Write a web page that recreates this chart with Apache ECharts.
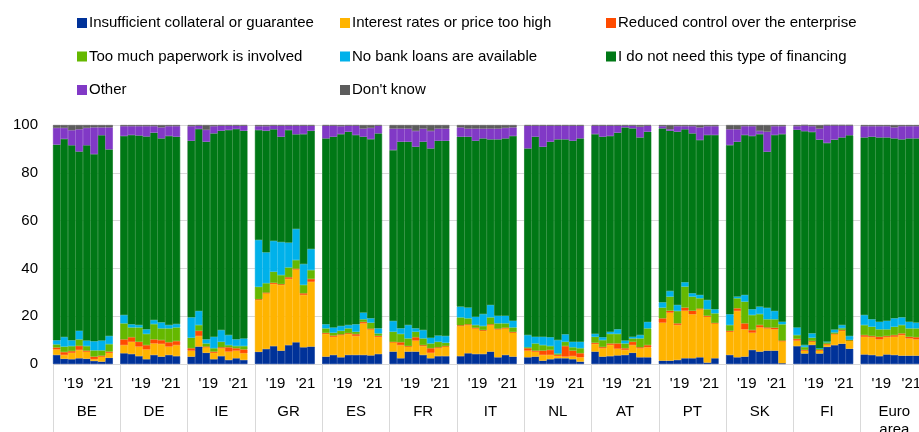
<!DOCTYPE html>
<html>
<head>
<meta charset="utf-8">
<script src="https://cdn.jsdelivr.net/npm/echarts@6/dist/echarts.min.js"></script>
<style>
html,body{margin:0;padding:0;background:#fff;overflow:hidden;}
#chart{width:919px;height:432px;position:absolute;left:0;top:0;}
</style>
</head>
<body>
<div id="chart"></div>
<script>
const countries = ['BE','DE','IE','GR','ES','FR','IT','NL','AT','PT','SK','FI','Euro\narea'];
const periodTicks = ['', '', "'19", '', '', '', "'21", ''];

const collateral = [
[3.8,2.2,2.0,2.4,2.2,1.3,1.0,2.6],
[4.5,4.2,3.3,2.0,3.8,3.1,3.8,3.3],
[3.1,7.3,4.7,2.0,3.3,1.7,2.4,1.7],
[5.1,6.3,7.5,5.6,7.9,9.1,7.0,7.3],
[3.1,3.8,2.8,3.8,3.8,3.8,3.6,4.2],
[5.2,2.4,5.2,5.2,3.8,2.4,3.3,3.3],
[3.3,4.5,4.2,4.2,5.2,2.8,3.8,3.1],
[2.8,3.1,1.4,2.0,2.4,2.4,2.0,1.0],
[5.2,3.1,3.3,3.6,3.8,4.7,2.8,2.8],
[1.4,1.4,1.7,2.4,2.4,2.8,0.6,2.4],
[3.8,2.8,3.1,5.9,5.2,5.6,5.6,0.3],
[7.5,4.4,8.0,4.4,7.2,7.9,8.5,6.4],
[4.0,3.8,3.3,4.0,3.8,3.5,3.5,3.5]
];
const interest = [
[2.3,1.6,2.7,3.5,3.0,0.7,2.1,2.1],
[3.4,5.1,4.0,4.1,4.8,5.3,3.5,4.6],
[2.5,4.4,2.3,2.7,3.3,3.5,3.2,2.8],
[21.7,23.3,26.0,27.5,27.7,30.5,21.9,27.1],
[9.5,7.6,9.3,8.8,7.9,13.2,10.9,7.2],
[3.9,5.5,2.1,4.6,3.7,2.3,3.3,4.0],
[12.6,11.8,10.7,9.7,11.1,11.7,11.1,10.0],
[2.8,2.1,2.4,1.8,1.0,0.7,1.3,1.8],
[3.2,3.5,4.7,2.8,2.1,3.2,3.8,4.2],
[15.9,20.1,14.6,19.9,18.4,20.1,19.2,14.6],
[9.7,19.4,11.4,7.2,10.1,9.3,8.9,9.3],
[2.3,1.2,1.3,1.2,1.0,4.6,5.4,3.4],
[7.4,7.4,7.0,7.2,7.6,8.6,7.2,6.8]
];
const control = [
[0.8,1.2,0.7,1.7,0.4,1.1,0.4,0.5],
[2.4,1.9,2.0,1.8,1.7,1.6,1.8,1.7],
[1.0,2.2,0.3,0.5,0.4,1.8,1.0,1.6],
[0.3,0.3,0.5,0.3,0.7,0.3,0.7,1.2],
[0.4,0.5,0.3,0.3,0.8,0.6,0.3,0.4],
[0.2,1.2,0.2,1.4,0.4,1.9,0.4,0.2],
[0.3,0.3,0.3,0.3,0.3,0.3,0.3,0.3],
[1.0,0.4,1.8,2.1,0.5,4.4,2.3,1.7],
[0.5,0.5,0.6,2.2,0.7,1.4,0.4,0.9],
[1.8,0.8,0.7,1.3,1.5,0.3,0.4,0.2],
[0.4,1.1,2.5,1.1,1.0,0.4,0.7,0.2],
[0.7,0.3,0.3,0.3,0.2,0.2,0.3,0.1],
[0.7,0.5,1.1,0.5,0.7,0.7,0.7,0.9]
];
const paperwork = [
[1.3,2.3,2.1,2.7,1.9,2.6,2.2,3.1],
[6.7,4.1,6.0,4.7,6.4,4.9,5.8,5.7],
[4.4,2.4,1.3,1.4,2.3,0.9,0.9,1.4],
[5.2,3.9,4.6,3.8,4.1,3.6,3.5,3.7],
[1.9,1.2,1.5,2.0,1.0,1.1,2.5,1.0],
[4.2,3.5,3.2,2.3,2.8,2.0,2.3,1.4],
[3.3,2.5,1.1,1.7,2.9,2.2,1.8,1.9],
[0.4,3.0,2.3,1.6,0.5,1.8,1.4,2.1],
[2.5,2.9,4.0,4.0,2.0,1.4,3.7,7.0],
[4.5,5.9,5.2,8.8,5.9,4.3,2.7,4.0],
[2.4,4.2,9.1,6.3,4.6,3.4,3.5,6.8],
[1.6,1.2,1.4,0.5,0.7,0.5,0.8,0.2],
[4.2,3.9,3.1,2.8,3.5,3.5,3.5,3.7]
];
const noLoans = [
[1.7,4.0,2.4,3.6,2.3,3.8,4.1,3.4],
[3.5,1.3,1.0,1.9,1.7,2.5,1.4,1.4],
[8.5,5.9,1.7,4.8,4.9,4.2,2.8,3.2],
[19.6,12.9,12.9,13.8,10.4,13.0,8.7,8.8],
[1.7,2.2,2.0,1.4,3.1,2.8,1.8,2.1],
[4.5,2.3,5.6,1.4,3.5,2.4,2.6,2.8],
[4.5,4.5,3.5,5.0,5.2,3.2,3.2,2.8],
[5.1,2.8,3.5,3.7,5.6,3.1,2.3,2.7],
[1.2,1.2,0.9,1.9,1.2,0.7,1.4,2.7],
[2.2,2.3,2.5,1.8,1.4,1.4,3.9,1.7],
[4.5,0.7,2.8,2.4,3.1,4.8,3.5,1.1],
[3.2,0.8,1.8,0.2,0.3,1.2,1.3,1.6],
[4.2,3.1,3.2,3.6,3.5,3.2,2.8,2.4]
];
const noNeed = [
[81.9,82.9,81.6,75.0,81.7,78.3,85.9,78.1],
[74.9,79.2,79.3,80.7,78.4,77.0,79.1,78.4],
[73.9,76.1,82.7,85.1,83.4,85.8,88.0,86.9],
[46.0,50.9,46.7,44.1,47.1,39.6,54.4,49.5],
[77.8,79.8,80.3,80.9,79.2,73.6,75.0,81.6],
[71.5,78.1,76.7,76.0,78.8,79.2,81.5,81.7],
[71.1,71.5,73.6,73.5,69.3,73.8,74.2,77.3],
[78.1,83.7,79.5,81.8,84.0,81.6,84.1,85.1],
[83.6,83.9,81.9,82.3,89.2,87.2,82.7,79.6],
[72.8,67.1,72.5,64.0,66.9,64.8,69.0,72.9],
[70.8,64.8,66.9,72.5,72.2,65.3,73.6,78.5],
[82.7,89.5,84.3,87.3,83.1,79.5,78.5,84.0],
[74.3,76.4,77.1,76.7,75.3,74.5,76.7,77.1]
];
const other = [
[7.0,4.6,6.3,9.3,7.3,11.2,3.3,9.2],
[4.1,3.7,3.9,4.3,2.7,4.6,4.1,4.4],
[6.1,1.4,5.0,3.0,2.1,1.8,1.4,2.1],
[1.6,1.9,1.5,4.6,1.8,3.6,3.5,2.1],
[5.3,4.6,3.3,2.5,3.9,3.4,4.7,3.2],
[9.0,5.5,5.5,6.6,5.5,7.3,5.1,5.1],
[3.9,3.4,5.1,4.1,4.5,4.5,4.4,3.6],
[9.5,4.6,8.8,6.7,5.7,5.7,6.3,5.3],
[3.5,4.6,4.3,2.9,0.7,1.1,4.5,2.5],
[0.9,0.6,2.3,1.3,3.0,5.3,3.7,3.7],
[6.6,5.2,3.7,4.1,1.3,8.4,3.7,3.3],
[1.5,2.4,2.4,4.6,7.3,5.9,5.0,4.1],
[4.7,4.4,4.7,4.7,4.6,5.5,5.1,5.1]
];
const dontKnow = [
[1.2,1.2,2.2,1.8,1.2,1.0,1.0,1.0],
[0.5,0.5,0.5,0.5,0.5,1.0,0.5,0.5],
[0.5,0.3,2.0,0.5,0.3,0.3,0.3,0.3],
[0.5,0.5,0.3,0.3,0.3,0.3,0.3,0.3],
[0.3,0.3,0.5,0.3,0.3,1.5,1.2,0.3],
[1.5,1.5,1.5,2.5,1.5,2.5,1.5,1.5],
[1.0,1.5,1.5,1.5,1.5,1.5,1.2,1.0],
[0.3,0.3,0.3,0.3,0.3,0.3,0.3,0.3],
[0.3,0.3,0.3,0.3,0.3,0.3,0.7,0.3],
[0.5,1.8,0.5,0.5,0.5,1.0,0.5,0.5],
[1.8,1.8,0.5,0.5,2.5,2.8,0.5,0.5],
[0.5,0.2,0.5,1.5,0.2,0.2,0.2,0.2],
[0.5,0.5,0.5,0.5,1.0,0.5,0.5,0.5]
];

const seriesDefs = [
  {name:'Insufficient collateral or guarantee', data:collateral, color:'#003299'},
  {name:'Interest rates or price too high', data:interest, color:'#FFB400'},
  {name:'Reduced control over the enterprise', data:control, color:'#FF4B00'},
  {name:'Too much paperwork is involved', data:paperwork, color:'#65B800'},
  {name:'No bank loans are available', data:noLoans, color:'#00B1EA'},
  {name:'I do not need this type of financing', data:noNeed, color:'#007816'},
  {name:'Other', data:other, color:'#8139C6'},
  {name:"Don't know", data:dontKnow, color:'#5C5C5C'}
];

const slotsPerGroup = periodTicks.length + 1;
const slots = [];
countries.forEach((c, ci) => {
  for (let k = 0; k < slotsPerGroup; k++) slots.push(ci + '_' + k);
});
function flatten(arr) {
  const out = [];
  arr.forEach(row => { row.forEach(v => out.push(v)); out.push('-'); });
  return out;
}

const font = "'Liberation Sans', Arial, sans-serif";
const el = document.getElementById('chart');
const chart = echarts.init(el, null, {renderer:'canvas', width: 919, height: 432});

function legendFor(names, left) {
  return {
    data: names, orient:'vertical', left: left, top: 15, padding: 0,
    itemWidth: 8, itemHeight: 8, itemGap: 17.5, icon: 'rect', selectedMode: false,
    textStyle: {fontFamily: font, fontSize: 15, color: '#000', lineHeight: 16, padding:[0,0,0,-2]}
  };
}

const option = {
  animation: false,
  backgroundColor: '#fff',
  legend: [
    legendFor([seriesDefs[0].name, seriesDefs[3].name, seriesDefs[6].name], 77),
    legendFor([seriesDefs[1].name, seriesDefs[4].name, seriesDefs[7].name], 340),
    legendFor([seriesDefs[2].name, seriesDefs[5].name], 606)
  ],
  grid: {left: 53, right: -9, top: 125, bottom: 68, containLabel: false, outerBoundsMode: 'none'},
  xAxis: [
    {
      type: 'category', data: slots, position: 'bottom', boundaryGap: true,
      axisLine: {show: false, onZero: false}, axisTick: {show: false}, splitLine: {show: false},
      axisLabel: {
        interval: 0, margin: 11, fontFamily: font, fontSize: 15, color: '#000', lineHeight: 18,
        padding: [0,0,0,4],
        formatter: (v, i) => periodTicks[i % slotsPerGroup] || ''
      }
    },
    {
      type: 'category', data: countries, position: 'bottom', boundaryGap: true,
      axisLine: {show: false, onZero: false},
      axisTick: {show: true, interval: 0, length: 68, lineStyle: {color: '#d9d9d9', width: 1}},
      splitLine: {show: true, interval: 0, lineStyle: {color: '#d9d9d9', width: 1}},
      axisLabel: {interval: 0, margin: 39, fontFamily: font, fontSize: 15, color: '#000', lineHeight: 18}
    }
  ],
  yAxis: {
    type: 'value', min: 0, max: 100, interval: 20,
    axisLine: {show: false}, axisTick: {show: false},
    splitLine: {show: true, lineStyle: {color: '#d9d9d9', width: 1}},
    axisLabel: {margin: 15, fontFamily: font, fontSize: 15, color: '#000'}
  },
  series: seriesDefs.map(s => ({
    name: s.name, type: 'bar', stack: 'total', xAxisIndex: 0,
    data: flatten(s.data), barWidth: '100%', barCategoryGap: '0%',
    itemStyle: {color: s.color, borderColor: s.color, borderWidth: 0.6}, emphasis: {disabled: true}
  }))
};
chart.setOption(option);
</script>
</body>
</html>
